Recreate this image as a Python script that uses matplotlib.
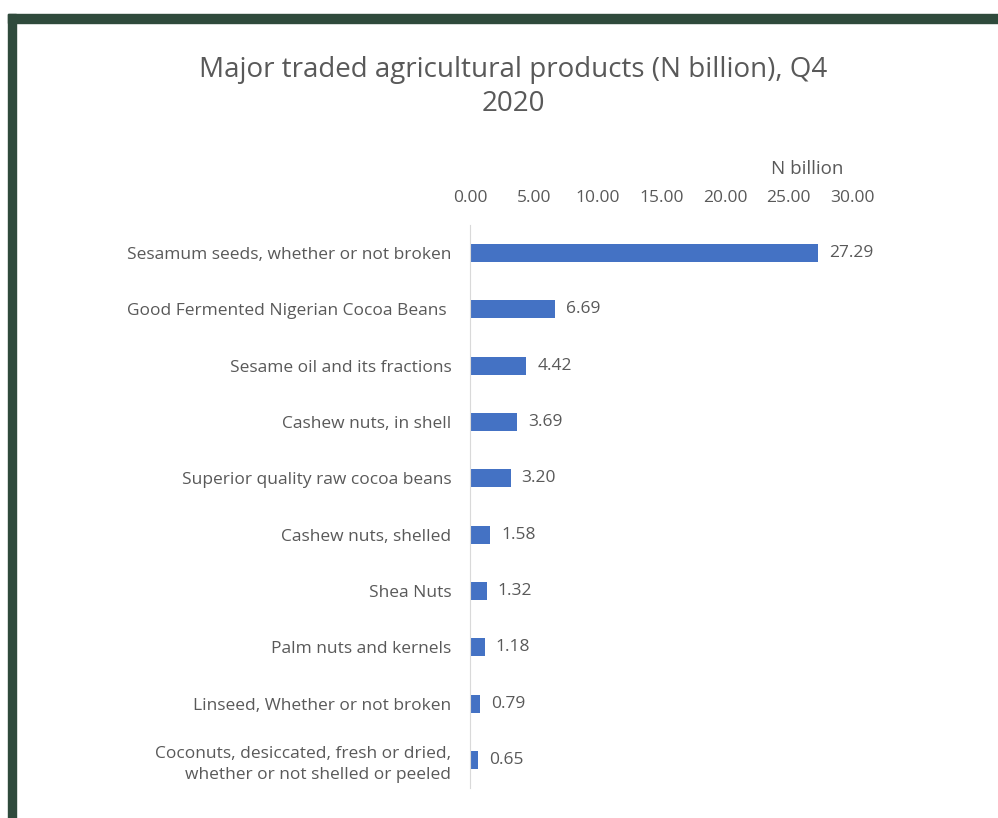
import matplotlib.pyplot as plt
from matplotlib.patches import Rectangle

products = [
    "Sesamum seeds, whether or not broken",
    "Good Fermented Nigerian Cocoa Beans ",
    "Sesame oil and its fractions",
    "Cashew nuts, in shell",
    "Superior quality raw cocoa beans",
    "Cashew nuts, shelled",
    "Shea Nuts",
    "Palm nuts and kernels",
    "Linseed, Whether or not broken",
    "Coconuts, desiccated, fresh or dried,\nwhether or not shelled or peeled",
]
values = [27.29, 6.69, 4.42, 3.69, 3.20, 1.58, 1.32, 1.18, 0.79, 0.65]
ticks = [0, 5, 10, 15, 20, 25, 30]

plt.rcParams['font.family'] = ['Open Sans', 'DejaVu Sans']
grey = '#595959'

fig = plt.figure(figsize=(9.98, 8.18), dpi=100)
W, H = 998, 818

# dark green frame on top and left
fig.patches.append(Rectangle((8 / W, 1 - 23 / H), 1 - 8 / W, 9 / H,
                             transform=fig.transFigure, color='#2F4A3C', zorder=0))
fig.patches.append(Rectangle((8 / W, 0), 8 / W, 1 - 14 / H,
                             transform=fig.transFigure, color='#2F4A3C', zorder=0))

ax = fig.add_axes([470 / W, 1 - 788 / H, 382.5 / W, 563 / H])
y = list(range(len(products)))
ax.barh(y, values, height=0.32, color='#4472C4')
ax.set_ylim(len(products) - 0.5, -0.5)
ax.set_xlim(0, 30)

ax.xaxis.tick_top()
ax.set_xticks(ticks)
ax.set_xticklabels([f"{t:.2f}" for t in ticks], color=grey, fontsize=12.5)
ax.tick_params(axis='x', length=0, pad=14)
ax.set_yticks(y)
ax.set_yticklabels(products, color=grey, fontsize=12.5, linespacing=1.4)
ax.tick_params(axis='y', length=0, pad=13.5)

for s in ['top', 'right', 'bottom']:
    ax.spines[s].set_visible(False)
ax.spines['left'].set_color('#d9d9d9')

for i, v in enumerate(values):
    ax.text(v + 0.85, i, f"{v:.2f}", va='center', ha='left', color=grey, fontsize=12.5)

fig.text(807 / W, 1 - 169 / H, "N billion", ha='center', va='center', color=grey, fontsize=13.5)
fig.text(513 / W, 1 - 87 / H, "Major traded agricultural products (N billion), Q4\n2020",
         ha='center', va='center', color=grey, fontsize=20, linespacing=1.25)

fig.savefig('out.png', dpi=100)
